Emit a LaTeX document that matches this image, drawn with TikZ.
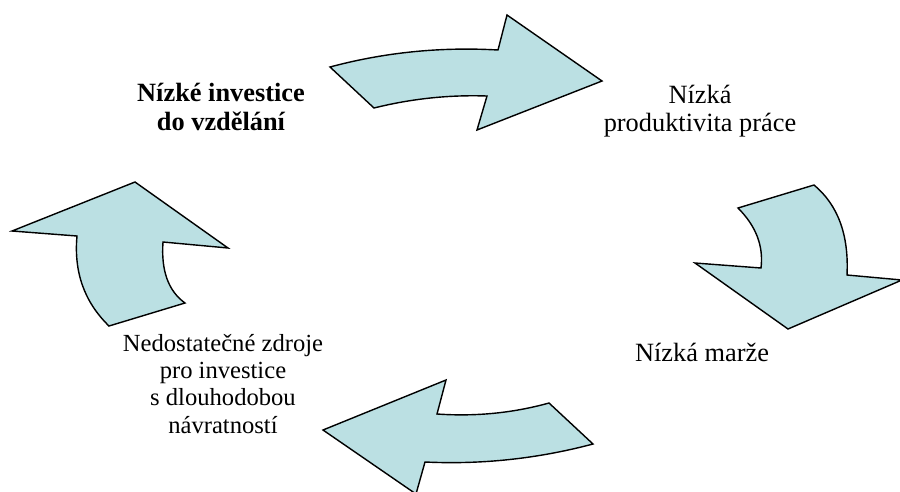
\documentclass[tikz,border=0pt]{standalone}
\usepackage{fontspec}
\setmainfont{Liberation Serif}
\definecolor{arrowfill}{RGB}{187,224,227}
\begin{document}
\begin{tikzpicture}
            [
                x = 0.02cm, y = -0.02cm,
                every node/.style = {align=center, inner sep=0pt},
                cyclearrow/.style = {draw=black, line width=0.8pt,
                line join=miter, fill=arrowfill}
            ]
            \useasboundingbox (0,0) rectangle (900,491);
            \clip (0,0) rectangle (900,491);
            % the four curved arrows
            \path[cyclearrow] (330,67) .. controls (384.7,52.3) and (440.7,46.7) .. (498,50)
                -- (507,15) -- (602,81) -- (477,130) -- (487,96)
                .. controls (449,94.7) and (411.3,98.7) .. (374,108) -- cycle;
            \path[cyclearrow] (738,208) -- (814,185)
                .. controls (838,205) and (849,235) .. (847,275) -- (902,280)
                -- (788,329) -- (695,263) -- (761,268)
                .. controls (763.7,246) and (756,226) .. (738,208) -- cycle;
            \path[cyclearrow] (323,430) -- (446,380) -- (437,414)
                .. controls (475.7,416.7) and (513,413) .. (549,403) -- (593,444)
                .. controls (537.7,458.7) and (481.7,464.7) .. (425,462) -- (416,494) -- cycle;
            \path[cyclearrow] (135,182) -- (228,248) -- (163,242)
                .. controls (161,270.7) and (168.3,291) .. (185,303) -- (109,326)
                .. controls (84.3,302) and (73.7,272) .. (77,236) -- (12,231) -- cycle;
            % texts
            \node[font=\fontsize{15}{16}\selectfont\bfseries] (invest) at (221,107)
                {Nízké investice\\do vzdělání};
            \node[font=\fontsize{15}{16}\selectfont] (product) at (700,111)
                {Nízká\\produktivita práce};
            \node[font=\fontsize{15}{18}\selectfont] (margin) at (702,352)
                {Nízká marže};
            \node[font=\fontsize{14}{15.4}\selectfont] (sources) at (223,384)
                {Nedostatečné zdroje\\pro investice\\s dlouhodobou\\návratností};
        \end{tikzpicture}
\end{document}
